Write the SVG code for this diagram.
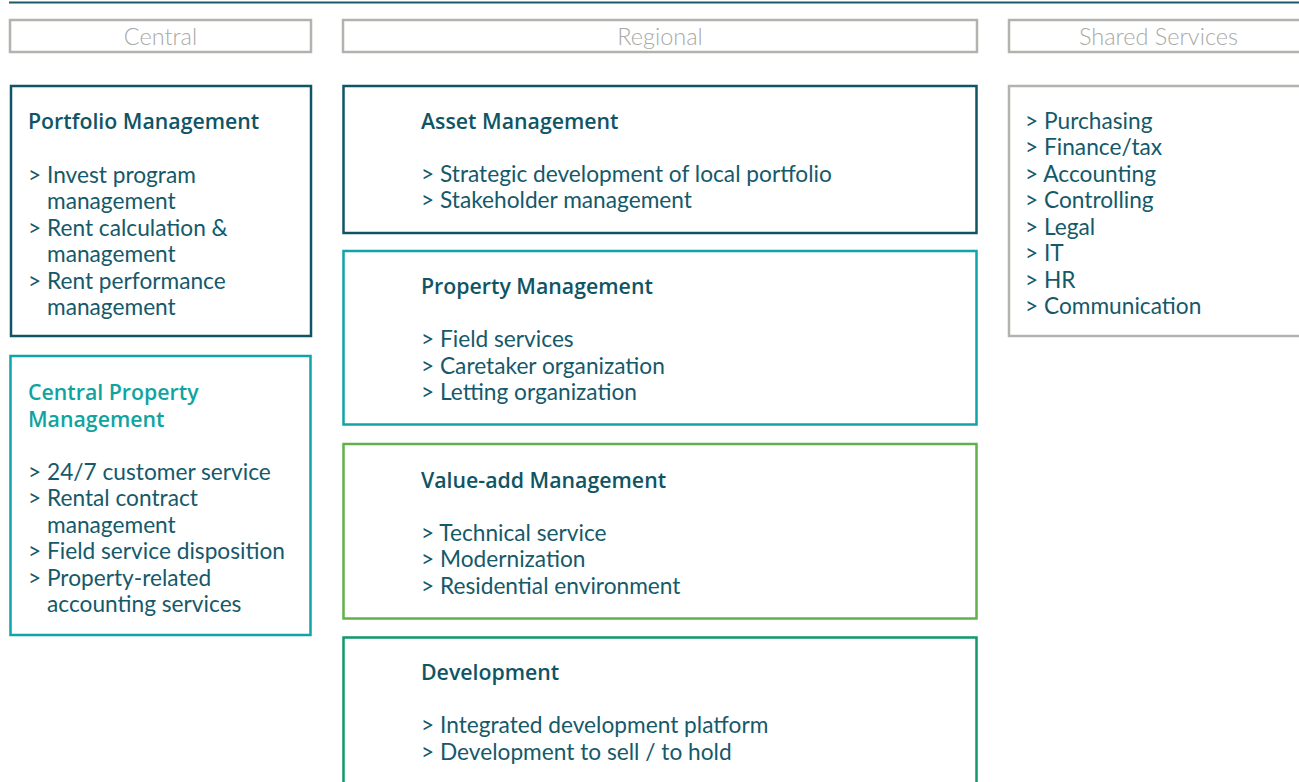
<svg xmlns="http://www.w3.org/2000/svg" width="1299" height="782" viewBox="0 0 1299 782">
<style>
.hdr{fill:#fff;stroke:#b2b2ae;stroke-width:2.5}
.hdrt{font-family:Lato,"Open Sans",sans-serif;font-weight:300;font-size:23.5px;fill:#a9a9a5;text-anchor:middle}
.box{fill:#fff;stroke-width:2.5}
.dark{stroke:#0f5565}
.teal{stroke:#10a4a8}
.green{stroke:#62b04c}
.dgreen{stroke:#12996a}
.gray{stroke:#b2b2ae}
.t{font-family:"Open Sans",Lato,sans-serif;font-weight:600;font-size:21.3px;fill:#0f5565}
.tt{fill:#10a4a0}
.i{font-family:Lato,"Open Sans",sans-serif;font-size:22.7px;fill:#15596a}
</style>
<line x1="9" y1="2.5" x2="1299" y2="2.5" stroke="#1a5a6a" stroke-width="2"/>
<g id="header-central"><rect class="hdr" x="10" y="20" width="301" height="32"/><text class="hdrt" x="160.5" y="44.5">Central</text></g>
<g id="header-regional"><rect class="hdr" x="343" y="20" width="634" height="32"/><text class="hdrt" x="660" y="44.5">Regional</text></g>
<g id="header-shared"><rect class="hdr" x="1009" y="20" width="300" height="32"/><text class="hdrt" x="1158.5" y="44.5">Shared Services</text></g>
<g id="portfolio-management">
<rect class="box dark" x="11" y="86" width="300" height="250"/>
<text class="t" x="28" y="128.7">Portfolio Management</text>
<text class="i" x="28" y="182.5">&gt; Invest program</text>
<text class="i" x="47" y="209">management</text>
<text class="i" x="28" y="235.5">&gt; Rent calculation &amp;</text>
<text class="i" x="47" y="262">management</text>
<text class="i" x="28" y="288.5">&gt; Rent performance</text>
<text class="i" x="47" y="315">management</text>
</g>
<g id="central-property-management">
<rect class="box teal" x="10.5" y="356" width="300" height="279"/>
<text class="t tt" x="28" y="400">Central Property</text>
<text class="t tt" x="28" y="426.5">Management</text>
<text class="i" x="28" y="479.5">&gt; 24/7 customer service</text>
<text class="i" x="28" y="506">&gt; Rental contract</text>
<text class="i" x="47" y="532.5">management</text>
<text class="i" x="28" y="559">&gt; Field service disposition</text>
<text class="i" x="28" y="585.5">&gt; Property-related</text>
<text class="i" x="47" y="612">accounting services</text>
</g>
<g id="asset-management">
<rect class="box dark" x="343.5" y="86" width="633" height="147"/>
<text class="t" x="421" y="129.3">Asset Management</text>
<text class="i" x="421" y="181.5">&gt; Strategic development of local portfolio</text>
<text class="i" x="421" y="208">&gt; Stakeholder management</text>
</g>
<g id="property-management">
<rect class="box teal" x="343.5" y="251" width="633" height="173.5"/>
<text class="t" x="421" y="293.5">Property Management</text>
<text class="i" x="421" y="347">&gt; Field services</text>
<text class="i" x="421" y="373.5">&gt; Caretaker organization</text>
<text class="i" x="421" y="400">&gt; Letting organization</text>
</g>
<g id="value-add-management">
<rect class="box green" x="343.5" y="444" width="633" height="174.5"/>
<text class="t" x="421" y="487.5">Value-add Management</text>
<text class="i" x="421" y="540.5">&gt; Technical service</text>
<text class="i" x="421" y="567">&gt; Modernization</text>
<text class="i" x="421" y="593.5">&gt; Residential environment</text>
</g>
<g id="development">
<rect class="box dgreen" x="343.5" y="637.5" width="633" height="160"/>
<text class="t" x="421" y="679.5">Development</text>
<text class="i" x="421" y="733">&gt; Integrated development platform</text>
<text class="i" x="421" y="759.5">&gt; Development to sell / to hold</text>
</g>
<g id="shared-services">
<rect class="box gray" x="1009" y="86" width="300" height="250"/>
<text class="i" x="1025" y="128.5">&gt; Purchasing</text>
<text class="i" x="1025" y="155">&gt; Finance/tax</text>
<text class="i" x="1025" y="181.5">&gt; Accounting</text>
<text class="i" x="1025" y="208">&gt; Controlling</text>
<text class="i" x="1025" y="234.5">&gt; Legal</text>
<text class="i" x="1025" y="261">&gt; IT</text>
<text class="i" x="1025" y="287.5">&gt; HR</text>
<text class="i" x="1025" y="314">&gt; Communication</text>
</g>
<g id="connectors"/>
</svg>
